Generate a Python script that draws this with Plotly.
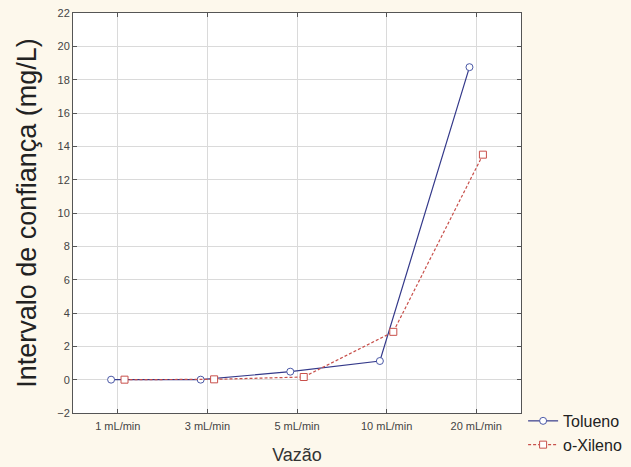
import plotly.graph_objects as go

categories = ["1 mL/min", "3 mL/min", "5 mL/min", "10 mL/min", "20 mL/min"]
tolueno = [0.0, 0.0, 0.48, 1.12, 18.75]
xileno = [0.0, 0.02, 0.16, 2.87, 13.5]
y_ticks = list(range(-2, 23, 2))

idx = list(range(len(categories)))
offset = 0.075

fig = go.Figure()
fig.add_trace(go.Scatter(
    x=[i - offset for i in idx], y=tolueno, name="Tolueno",
    mode="lines+markers",
    line=dict(color="#34398A", width=1.2),
    marker=dict(symbol="circle", size=7, color="white",
                line=dict(color="#4A58A6", width=1)),
))
fig.add_trace(go.Scatter(
    x=[i + offset for i in idx], y=xileno, name="o-Xileno",
    mode="lines+markers",
    line=dict(color="#C8504B", width=1.2, dash="3px,2px"),
    marker=dict(symbol="square", size=7, color="white",
                line=dict(color="#C8504B", width=1)),
))

axis_common = dict(
    showline=True, linecolor="#555555", linewidth=1, mirror="ticks",
    ticks="inside", ticklen=4, tickcolor="#555555",
    showgrid=True, gridcolor="#DADADA", gridwidth=1, zeroline=False,
    tickfont=dict(family="Liberation Sans, Arial", size=11, color="#444444"),
)

fig.update_xaxes(
    tickmode="array", tickvals=idx, ticktext=categories,
    range=[-0.5, len(categories) - 0.5],
    ticklabelstandoff=3,
    title=dict(text="Vazão", font=dict(family="Liberation Sans, Arial", size=18, color="#333333"), standoff=17),
    **axis_common,
)
fig.update_yaxes(
    tickmode="array", tickvals=y_ticks,
    range=[-2, 22],
    title=dict(text="Intervalo de confiança (mg/L)", font=dict(family="Liberation Sans, Arial", size=27, color="#222222"), standoff=12),
    **axis_common,
)

fig.update_layout(
    width=631, height=467,
    margin=dict(l=73, r=110, t=13, b=54, autoexpand=False),
    paper_bgcolor="#FDF8EC", plot_bgcolor="white",
    showlegend=True,
    legend=dict(xref="container", yref="container",
                x=0.829, xanchor="left", y=0.135, yanchor="top",
                font=dict(family="Liberation Sans, Arial", size=16, color="#222222"),
                bgcolor="rgba(0,0,0,0)", itemwidth=30, tracegroupgap=0),
)

fig.write_html("out.html")
